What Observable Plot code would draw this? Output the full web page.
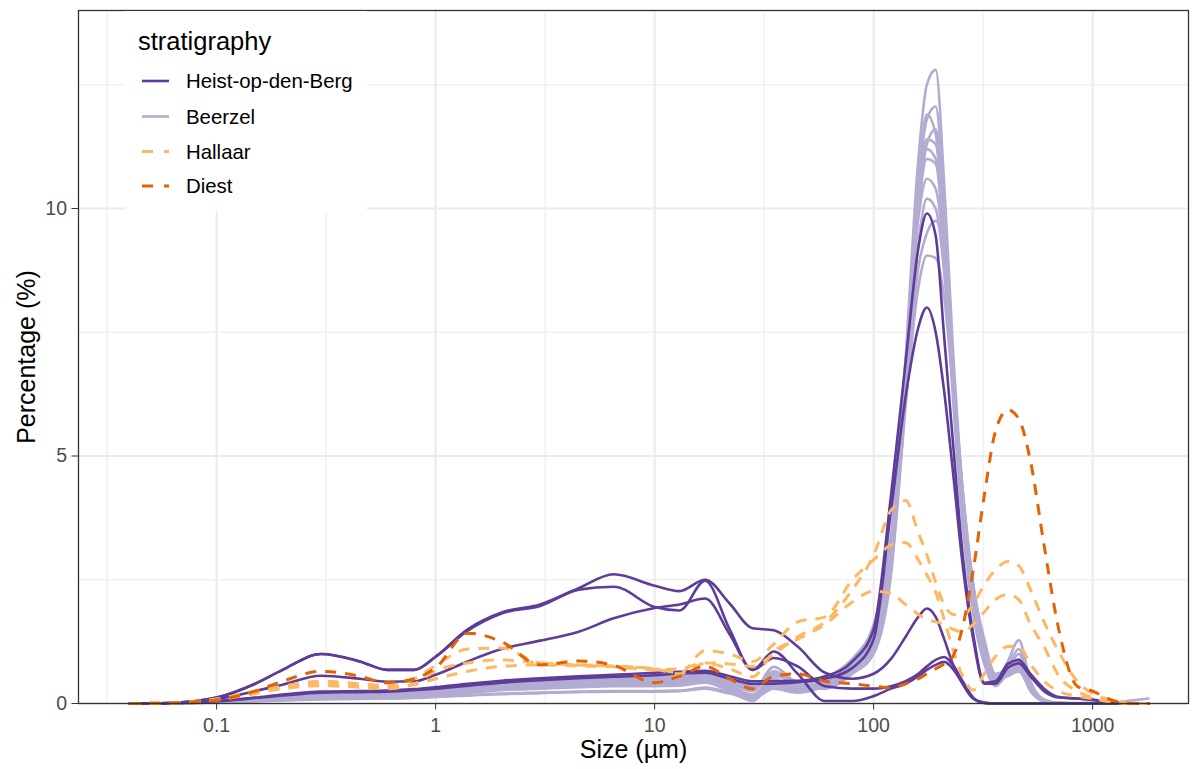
<!DOCTYPE html>
<html><head><meta charset="utf-8">
<script src="https://cdn.jsdelivr.net/npm/d3@7"></script>
<script src="https://cdn.jsdelivr.net/npm/@observablehq/plot@0.6"></script>
<style>
body{margin:0;background:#fff;}
#chart{position:relative;width:1196px;height:769px;}
</style></head><body><div id="chart"></div>
<script>
// ---------- data ----------
const sizes = [0.04, 0.06, 0.1, 0.15, 0.2, 0.3, 0.45, 0.6, 0.8, 1, 1.4, 2, 3, 4.5, 6.5, 10, 13, 17, 22, 28, 35, 45,
               60, 80, 100, 120, 140, 160, 175, 192, 210, 230, 255, 285, 320, 360, 410, 460, 520, 600, 700, 850, 1000, 1200, 1500, 1800];

const strata = ["Heist-op-den-Berg", "Beerzel", "Hallaar", "Diest"];

const xTicks = [0.1, 1, 10, 100, 1000];
const xTickLabels = ["0.1", "1", "10", "100", "1000"];
const xMinor = [0.0316, 0.316, 3.16, 31.6, 316];
const yTicks = [0, 5, 10];
const yTickLabels = ["0", "5", "10"];
const yMinor = [2.5, 7.5, 12.5];

const heist = [
  [0, 0.01, 0.12, 0.4, 0.68, 1.0, 0.85, 0.68, 0.68, 0.95, 1.5, 1.84, 2.0, 2.33, 2.61, 2.38, 2.27, 2.5, 2.02, 1.52, 1.48, 1.15,
   0.62, 0.5, 0.6, 0.9, 1.35, 1.75, 1.92, 1.75, 1.3, 0.8, 0.4, 0.1, 0.02, 0, 0, 0, 0, 0, 0, 0, 0, 0, 0, 0],
  [0, 0.01, 0.12, 0.4, 0.68, 1.0, 0.85, 0.68, 0.68, 0.94, 1.47, 1.82, 1.97, 2.3, 2.36, 1.95, 1.88, 2.48, 1.5, 0.68, 1.05, 0.6,
   0.05, 0.05, 0.15, 0.3, 0.4, 0.55, 0.68, 0.78, 0.84, 0.7, 0.4, 0.1, 0.01, 0, 0, 0, 0, 0, 0, 0, 0, 0, 0, 0],
  [0, 0.01, 0.09, 0.25, 0.38, 0.56, 0.5, 0.44, 0.45, 0.58, 0.85, 1.1, 1.27, 1.45, 1.72, 1.93, 2.0, 2.12, 1.4, 0.68, 0.92, 0.75,
   0.35, 0.3, 0.3, 0.35, 0.45, 0.6, 0.75, 0.88, 0.94, 0.78, 0.45, 0.12, 0.01, 0, 0, 0, 0, 0, 0, 0, 0, 0, 0, 0],
  [0, 0.005, 0.05, 0.12, 0.18, 0.24, 0.25, 0.26, 0.29, 0.33, 0.4, 0.46, 0.51, 0.55, 0.58, 0.62, 0.64, 0.66, 0.55, 0.45, 0.45, 0.46,
   0.55, 0.85, 1.5, 4.2, 6.9, 9.2, 9.9, 9.45, 7.4, 5.3, 3.0, 1.4, 0.42, 0.45, 0.8, 0.88, 0.6, 0.3, 0.13, 0.1, 0.08, 0.02, 0, 0],
  [0, 0.005, 0.045, 0.11, 0.16, 0.22, 0.23, 0.24, 0.27, 0.3, 0.36, 0.42, 0.47, 0.51, 0.54, 0.57, 0.6, 0.62, 0.5, 0.4, 0.4, 0.43,
   0.5, 0.72, 1.3, 3.9, 6.2, 7.6, 8.0, 7.5, 6.3, 4.7, 2.8, 1.3, 0.4, 0.4, 0.72, 0.81, 0.55, 0.25, 0.12, 0.1, 0.07, 0.02, 0, 0]
];

const beerzel = [
  [0, 0.005, 0.03, 0.06, 0.09, 0.12, 0.13, 0.14, 0.16, 0.2, 0.26, 0.3, 0.34, 0.38, 0.4, 0.4, 0.42, 0.5, 0.3, 0.1, 0.45, 0.3,
   0.3, 0.7, 1.2, 3.0, 7.0, 11.0, 12.5, 12.8, 10.5, 7.2, 4.3, 2.3, 1.2, 0.5, 0.7, 1.0, 0.4, 0.06, 0.01, 0, 0, 0, 0, 0],
  [0, 0.005, 0.03, 0.07, 0.1, 0.15, 0.16, 0.17, 0.2, 0.24, 0.3, 0.36, 0.42, 0.46, 0.48, 0.47, 0.47, 0.55, 0.38, 0.15, 0.6, 0.35,
   0.35, 0.75, 1.3, 3.0, 6.8, 10.5, 11.8, 12.06, 10.0, 6.8, 4.0, 2.1, 1.0, 0.45, 0.85, 1.28, 0.45, 0.08, 0.01, 0, 0, 0, 0, 0],
  [0, 0.004, 0.02, 0.05, 0.07, 0.1, 0.11, 0.12, 0.14, 0.17, 0.22, 0.27, 0.3, 0.33, 0.35, 0.35, 0.36, 0.42, 0.25, 0.05, 0.4, 0.25,
   0.4, 0.8, 1.4, 3.2, 6.9, 10.6, 11.9, 11.5, 9.6, 6.5, 3.8, 2.0, 0.9, 0.4, 0.7, 0.9, 0.35, 0.05, 0.01, 0, 0, 0, 0, 0],
  [0, 0.005, 0.035, 0.08, 0.12, 0.17, 0.18, 0.19, 0.22, 0.27, 0.34, 0.4, 0.46, 0.5, 0.52, 0.5, 0.5, 0.58, 0.42, 0.25, 0.74, 0.4,
   0.3, 0.6, 1.0, 2.6, 6.2, 10.0, 11.3, 11.6, 9.8, 6.9, 4.2, 2.3, 1.2, 0.5, 0.6, 0.8, 0.3, 0.05, 0.01, 0, 0, 0, 0, 0],
  [0, 0.003, 0.02, 0.04, 0.06, 0.08, 0.09, 0.1, 0.11, 0.13, 0.16, 0.19, 0.21, 0.23, 0.24, 0.24, 0.25, 0.3, 0.2, 0.1, 0.3, 0.22,
   0.35, 0.7, 1.3, 3.1, 6.6, 10.0, 11.0, 10.9, 9.3, 6.6, 3.9, 2.0, 0.9, 0.45, 0.65, 0.75, 0.3, 0.04, 0, 0, 0, 0, 0, 0],
  [0, 0.005, 0.03, 0.07, 0.11, 0.16, 0.17, 0.18, 0.21, 0.26, 0.32, 0.38, 0.43, 0.47, 0.5, 0.5, 0.5, 0.6, 0.45, 0.35, 0.55, 0.45,
   0.45, 0.9, 1.6, 3.4, 6.9, 9.8, 10.6, 10.4, 9.0, 6.2, 3.6, 1.8, 0.8, 0.35, 0.6, 0.7, 0.25, 0.04, 0, 0, 0, 0, 0, 0],
  [0, 0.004, 0.025, 0.06, 0.09, 0.13, 0.14, 0.15, 0.17, 0.21, 0.27, 0.32, 0.37, 0.4, 0.42, 0.43, 0.44, 0.48, 0.32, 0.12, 0.5, 0.3,
   0.3, 0.65, 1.1, 2.7, 6.0, 8.8, 9.5, 9.75, 9.0, 6.8, 4.3, 2.4, 1.3, 0.6, 0.7, 0.85, 0.35, 0.06, 0.01, 0, 0, 0, 0, 0],
  [0, 0.003, 0.02, 0.045, 0.065, 0.09, 0.1, 0.1, 0.12, 0.14, 0.17, 0.2, 0.22, 0.24, 0.25, 0.25, 0.26, 0.32, 0.22, 0.08, 0.35, 0.25,
   0.5, 0.9, 1.5, 3.2, 6.4, 9.3, 10.2, 10.0, 8.7, 6.4, 3.9, 2.0, 0.9, 0.4, 0.6, 0.7, 0.3, 0.05, 0, 0, 0, 0, 0, 0],
  [0, 0.005, 0.03, 0.07, 0.1, 0.14, 0.15, 0.16, 0.19, 0.23, 0.29, 0.35, 0.4, 0.44, 0.46, 0.46, 0.46, 0.52, 0.36, 0.18, 0.48, 0.38,
   0.4, 0.8, 1.4, 3.0, 6.3, 9.9, 11.2, 11.0, 9.4, 6.7, 4.2, 2.2, 1.1, 0.5, 0.55, 0.65, 0.28, 0.05, 0, 0, 0, 0, 0, 0],
  [0, 0.005, 0.035, 0.08, 0.12, 0.18, 0.19, 0.2, 0.23, 0.28, 0.35, 0.42, 0.48, 0.52, 0.55, 0.54, 0.54, 0.6, 0.45, 0.3, 0.65, 0.45,
   0.45, 0.85, 1.5, 3.2, 6.1, 8.4, 9.05, 9.0, 8.2, 6.4, 4.3, 2.4, 1.2, 0.55, 0.6, 0.7, 0.3, 0.05, 0.02, 0.01, 0.02, 0.02, 0.06, 0.1],
  [0, 0.004, 0.025, 0.055, 0.08, 0.11, 0.12, 0.13, 0.15, 0.19, 0.24, 0.29, 0.33, 0.36, 0.38, 0.38, 0.39, 0.45, 0.28, 0.1, 0.42, 0.28,
   0.35, 0.75, 1.3, 3.0, 6.5, 10.2, 11.4, 11.3, 9.5, 6.6, 3.9, 2.0, 0.95, 0.4, 0.75, 1.1, 0.4, 0.07, 0.01, 0, 0, 0, 0, 0]
];

const hallaar = [
  [0, 0.01, 0.08, 0.22, 0.32, 0.4, 0.36, 0.32, 0.38, 0.5, 0.65, 0.75, 0.78, 0.76, 0.74, 0.68, 0.7, 0.82, 0.8, 0.75, 1.0, 1.35,
   1.65, 2.3, 3.0, 3.9, 4.1, 3.45, 3.0, 2.45, 2.0, 1.8, 1.78, 2.0, 2.4, 2.7, 2.87, 2.78, 2.3, 1.65, 1.05, 0.45, 0.2, 0.08, 0.01, 0],
  [0, 0.01, 0.07, 0.2, 0.3, 0.36, 0.33, 0.3, 0.4, 0.66, 0.82, 0.88, 0.82, 0.78, 0.76, 0.7, 0.62, 1.07, 1.0, 0.85, 1.2, 1.65,
   1.75, 2.5, 2.9, 3.2, 3.25, 2.9, 2.6, 2.25, 1.7, 1.1, 0.55, 0.27, 0.6, 0.95, 1.15, 1.15, 0.8, 0.45, 0.25, 0.15, 0.1, 0.05, 0, 0],
  [0, 0.01, 0.09, 0.25, 0.35, 0.45, 0.4, 0.36, 0.5, 0.77, 1.1, 1.12, 0.82, 0.78, 0.75, 0.7, 0.6, 0.81, 0.7, 0.54, 1.05, 1.3,
   1.6, 2.05, 2.27, 2.22, 2.0, 1.8, 1.7, 1.65, 1.6, 1.5, 1.45, 1.6, 1.85, 2.1, 2.2, 2.1, 1.6, 1.15, 0.56, 0.25, 0.12, 0.03, 0, 0]
];

const diest = [
  [0, 0.01, 0.07, 0.25, 0.45, 0.65, 0.55, 0.42, 0.5, 0.72, 1.42, 1.25, 0.78, 0.86, 0.77, 0.42, 0.55, 0.75, 0.5, 0.3, 0.55, 0.6,
   0.45, 0.4, 0.35, 0.32, 0.4, 0.5, 0.6, 0.7, 0.8, 0.95, 1.55, 2.7, 4.2, 5.5, 5.93, 5.75, 4.9, 3.2, 1.5, 0.35, 0.25, 0.08, 0, 0]
];

// ---------- styles ----------
const colors = ["#5E3C99", "#B2ABD2", "#FDB863", "#E66101"];
const widths = [2.6, 2.6, 3, 3];
const dashes = [null, null, "11 9", "11 9"];
const FONT = "'Liberation Sans', Arial, Helvetica, sans-serif";

const groups = {"Heist-op-den-Berg": heist, "Beerzel": beerzel, "Hallaar": hallaar, "Diest": diest};
const rows = [];
for (const s of strata) {
  groups[s].forEach((vals, k) => {
    if (vals.length !== sizes.length) console.warn(s, k, vals.length);
    vals.forEach((v, i) => rows.push({size: sizes[i], pct: v, stratum: s, sample: s + "-" + k}));
  });
}

const drawOrder = ["Beerzel", "Heist-op-den-Berg", "Hallaar", "Diest"];
const lineMarks = drawOrder.map(s => {
  const j = strata.indexOf(s);
  return Plot.line(rows.filter(r => r.stratum === s), {
    x: "size", y: "pct", z: "sample",
    stroke: colors[j], strokeWidth: widths[j],
    strokeDasharray: dashes[j] || undefined,
    strokeLinecap: dashes[j] ? "butt" : "round",
    strokeLinejoin: "round",
    curve: "monotone-x"
  });
});

const xLab = new Map(xTicks.map((t, i) => [t, xTickLabels[i]]));
const yLab = new Map(yTicks.map((t, i) => [t, yTickLabels[i]]));

const plot = Plot.plot({
  width: 1196, height: 769,
  marginLeft: 78, marginRight: 8, marginTop: 10, marginBottom: 66,
  style: {fontFamily: FONT, background: "#fff", overflow: "visible"},
  x: {type: "log", domain: [0.0234, 2740]},
  y: {domain: [0, 14]},
  marks: [
    Plot.ruleX(xMinor, {stroke: "#EBEBEB", strokeWidth: 1}),
    Plot.ruleY(yMinor, {stroke: "#EBEBEB", strokeWidth: 1}),
    Plot.ruleX(xTicks, {stroke: "#EBEBEB", strokeWidth: 2}),
    Plot.ruleY(yTicks, {stroke: "#EBEBEB", strokeWidth: 2}),
    ...lineMarks,
    Plot.frame({stroke: "#333333", strokeWidth: 1.3}),
    Plot.axisX({ticks: xTicks, tickFormat: d => xLab.get(d), tickSize: 6.5, tickPadding: 8,
                fontSize: 19.5, stroke: "#333333", fill: "#4D4D4D", label: null}),
    Plot.axisY({ticks: yTicks, tickFormat: d => yLab.get(d), tickSize: 6.5, tickPadding: 5,
                fontSize: 19.5, stroke: "#333333", fill: "#4D4D4D", label: null}),
    Plot.text(["Size (µm)"], {frameAnchor: "bottom", lineAnchor: "middle", textAnchor: "middle", dy: 46, fontSize: 25, fill: "#000"}),
    Plot.text(["Percentage (%)"], {frameAnchor: "left", lineAnchor: "middle", textAnchor: "middle", dx: -52, rotate: -90, fontSize: 25, fill: "#000"})
  ]
});

// ---------- legend (inside panel, top-left) ----------
const svg = d3.select(plot);
const lg = svg.append("g").attr("font-family", FONT).attr("text-anchor", "start");
lg.append("rect").attr("x", 125).attr("y", 11).attr("width", 242).attr("height", 201).attr("fill", "#fff");
lg.append("text").attr("x", 138).attr("y", 50).attr("font-size", 25.5).attr("fill", "#000").attr("text-anchor", "start").text("stratigraphy");
const rowY = [81, 116.5, 151.5, 186];
strata.forEach((s, j) => {
  const y = rowY[j];
  const ln = lg.append("line").attr("x1", 142).attr("x2", 169).attr("y1", y).attr("y2", y)
    .attr("stroke", colors[j]).attr("stroke-width", widths[j]).attr("stroke-linecap", "butt");
  if (dashes[j]) ln.attr("stroke-dasharray", "11 11");
  lg.append("text").attr("x", 186).attr("y", y + 7).attr("font-size", 20.4).attr("fill", "#000").attr("text-anchor", "start").text(s);
});

document.getElementById("chart").appendChild(plot);
</script>
</body></html>
